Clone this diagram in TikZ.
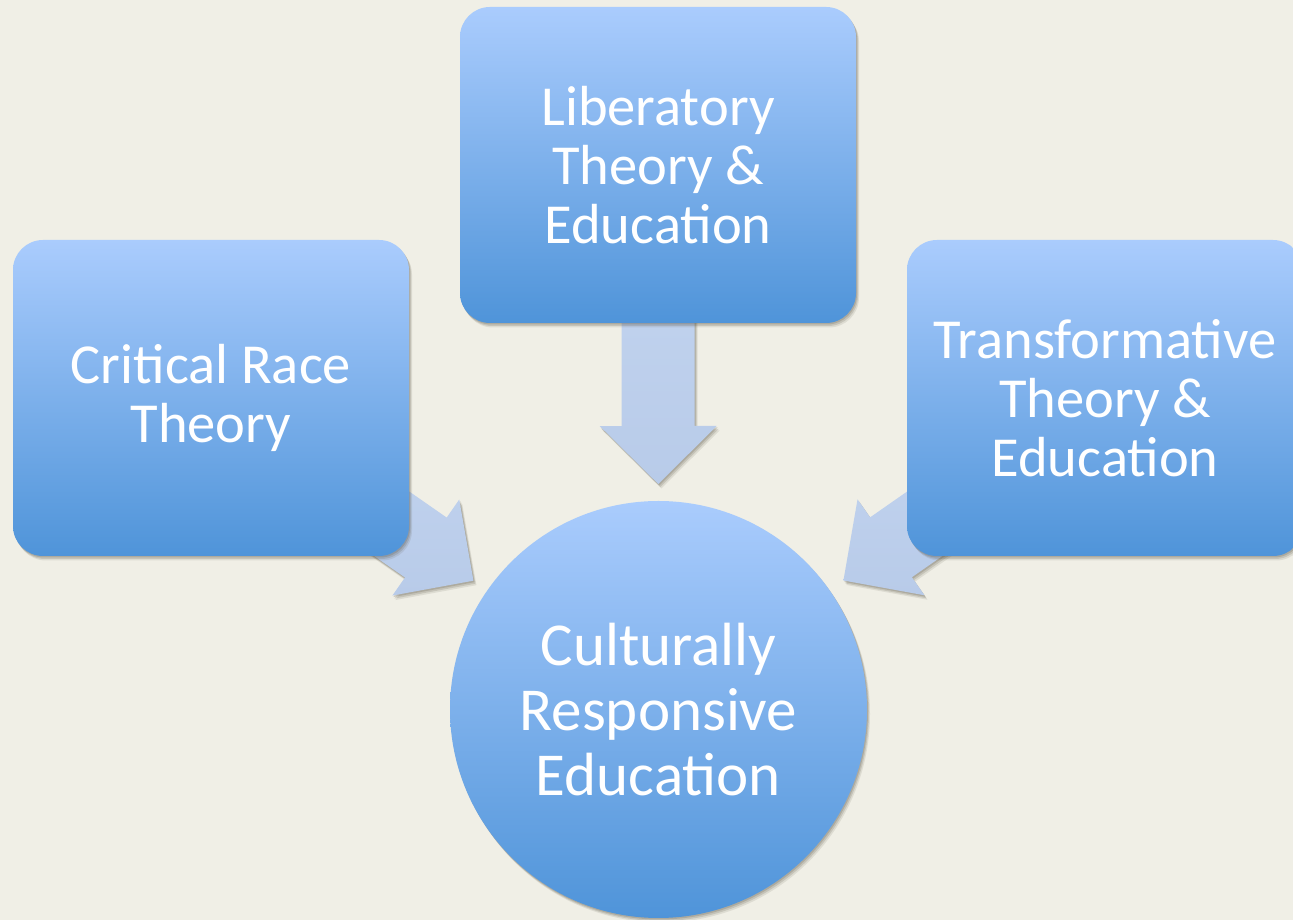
\documentclass[tikz,border=0pt]{standalone}
\usepackage{fontspec}
\setmainfont{Carlito}
\usetikzlibrary{calc,shadows}
\definecolor{bgcol}{HTML}{F0EFE6}
\definecolor{boxtop}{HTML}{AACCFD}
\definecolor{boxbot}{HTML}{4F94D9}
\definecolor{arrtop}{HTML}{C6D7F1}
\definecolor{arrbot}{HTML}{B8CBE9}
\definecolor{shadowcol}{HTML}{5A5546}
\pgfdeclarelayer{back}
\pgfdeclarelayer{arrowlayer}
\pgfsetlayers{back,arrowlayer,main}
\tikzset{
  softshadow/.style={
    general shadow={shadow xshift=3pt, shadow yshift=-4.5pt, fill=shadowcol, opacity=0.12},
    general shadow={shadow xshift=2pt, shadow yshift=-3pt, fill=shadowcol, opacity=0.18},
    general shadow={shadow xshift=1pt, shadow yshift=-1.5pt, fill=shadowcol, opacity=0.22}},
  theorybox/.style={rectangle, rounded corners=30pt, minimum width=396pt, minimum height=316pt,
    top color=boxtop, bottom color=boxbot, draw=none, text=white, align=center, inner sep=0pt,
    font=\fontsize{56.5}{59}\selectfont, softshadow},
  centrecircle/.style={circle, minimum size=417pt, inner sep=0pt,
    top color=boxtop, bottom color=boxbot, draw=none, text=white, align=center,
    font=\fontsize{61}{65}\selectfont, softshadow},
  blockarrow/.style={top color=arrtop, bottom color=arrbot, draw=none, softshadow},
}
\newcommand\blockarrowdraw[2]{%
  \path ($(#2)!58pt!(#1)$) coordinate (hb);
  \shade[blockarrow] ($(#1)!36.5pt!90:(#2)$) -- ($(hb)!36.5pt!90:(#2)$) -- ($(hb)!58.5pt!90:(#2)$)
    -- (#2) -- ($(hb)!58.5pt!-90:(#2)$) -- ($(hb)!36.5pt!-90:(#2)$) -- ($(#1)!36.5pt!-90:(#2)$) -- cycle;
}
\begin{document}
\begin{tikzpicture}[x=1pt,y=1pt]
  \begin{pgfonlayer}{back}
    \fill[bgcol] (0,0) rectangle (1293,920);
  \end{pgfonlayer}
  \useasboundingbox (0,0) rectangle (1293,920);

  \node[theorybox] (crt) at (211,522) {Critical Race\\Theory};
  \node[theorybox] (lib) at (658,755) {Liberatory\\Theory \&\\Education};
  \node[theorybox] (tra) at (1105,522) {Transformative\\Theory \&\\Education};
  \node[centrecircle] (cre) at (658.5,210.5) {Culturally\\Responsive\\Education};

  \coordinate (tipL) at ($(cre.center)!225.5pt!(crt.center)$);
  \coordinate (tipT) at ($(cre.center)!225.5pt!(lib.center)$);
  \coordinate (tipR) at ($(cre.center)!225.5pt!(tra.center)$);

  \begin{pgfonlayer}{arrowlayer}
    \blockarrowdraw{crt.center}{tipL}
    \blockarrowdraw{lib.center}{tipT}
    \blockarrowdraw{tra.center}{tipR}
  \end{pgfonlayer}
\end{tikzpicture}
\end{document}
